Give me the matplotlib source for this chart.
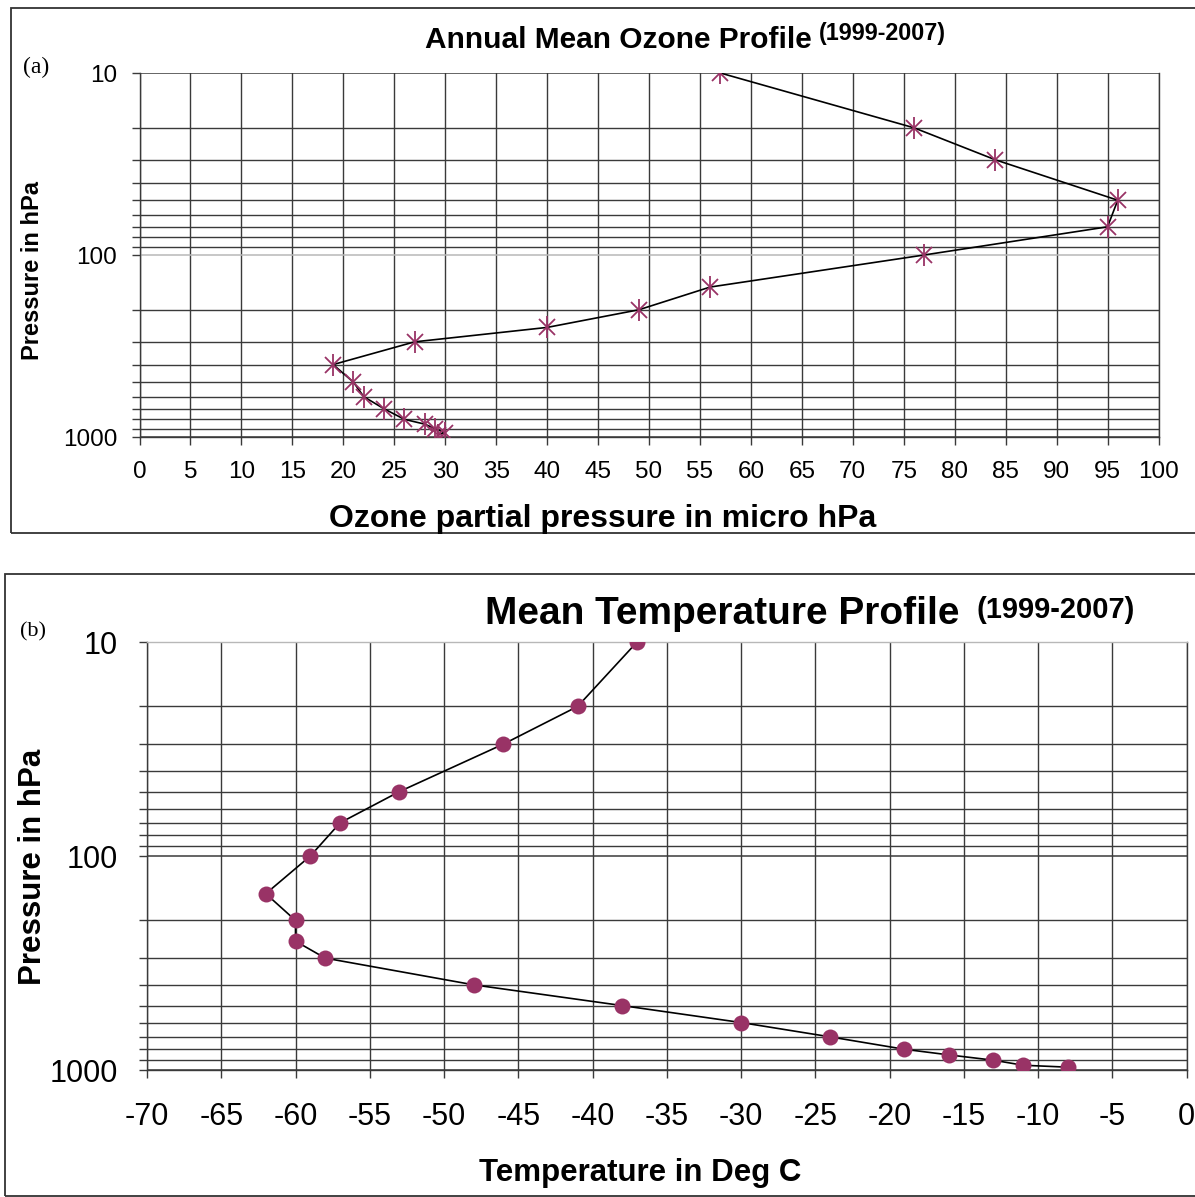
import matplotlib
matplotlib.use("Agg")
import matplotlib.pyplot as plt
from matplotlib.patches import Rectangle
from matplotlib.ticker import FixedLocator, NullFormatter

plt.rcParams['font.family'] = ['Liberation Sans', 'DejaVu Sans']
plt.rcParams['axes.unicode_minus'] = False

# pressure levels (hPa)
ozone_p = [10, 20, 30, 50, 70, 100, 150, 200, 250, 300, 400, 500, 600, 700, 800, 850, 900, 950, 970]
# ozone partial pressure (micro hPa)
ozone = [57, 76, 84, 96, 95, 77, 56, 49, 40, 27, 19, 21, 22, 24, 26, 28, 29, 30, 29.3]

temp_p = [10, 20, 30, 50, 70, 100, 150, 200, 250, 300, 400, 500, 600, 700, 800, 850, 900, 950, 970]
# temperature (deg C)
temp = [-37, -41, -46, -53, -57, -59, -62, -60, -60, -58, -48, -38, -30, -24, -19, -16, -13, -11, -8]

major_p = [10, 100, 1000]
minor_p = [20, 30, 40, 50, 60, 70, 80, 90, 200, 300, 400, 500, 600, 700, 800, 900]

PLUM = '#993366'
GRID = '#3a3a3a'

W, H = 1195, 1197
fig = plt.figure(figsize=(W / 100, H / 100), dpi=100)


def fx(px):
    return px / W


def fy(py):
    return 1 - py / H


def setup_pressure_axis(ax, xticks, fs, ypad, xpad, light_p):
    ax.set_yscale('log')
    ax.set_ylim(1000, 10)
    ax.yaxis.set_major_locator(FixedLocator(major_p))
    ax.yaxis.set_minor_locator(FixedLocator(minor_p))
    ax.yaxis.set_minor_formatter(NullFormatter())
    ax.set_yticklabels([str(p) for p in major_p])
    ax.set_xticks(xticks)
    ax.set_xticklabels([str(v) for v in xticks])
    ax.tick_params(axis='both', which='both', direction='out', length=6,
                   width=1, color=GRID, labelsize=fs)
    ax.tick_params(axis='y', pad=ypad)
    ax.tick_params(axis='x', pad=xpad)
    ax.grid(axis='x', which='major', color=GRID, lw=1)
    ax.grid(axis='y', which='minor', color=GRID, lw=1)
    for p in major_p:
        c = '#b8b8b8' if p == light_p else GRID
        ax.axhline(p, color=c, lw=1.1, zorder=1.5)
    for s in ax.spines.values():
        s.set_color(GRID)
        s.set_linewidth(1)
    ax.set_axisbelow(True)


# ---- (a) ozone ----
ax1 = fig.add_axes([fx(139.5), fy(437), fx(1158.5) - fx(139.5), fy(73) - fy(437)])
setup_pressure_axis(ax1, list(range(0, 101, 5)), 17.5, 10, 11, 100)
ax1.set_xlim(0, 100)
ax1.spines['top'].set_visible(False)
ax1.plot(ozone, ozone_p, color='black', lw=1.2, zorder=3)
ax1.plot(ozone, ozone_p, ls='none', marker='x', ms=12, mew=1.3, color=PLUM, zorder=4)
ax1.plot(ozone, ozone_p, ls='none', marker='|', ms=16, mew=1.3, color=PLUM, zorder=4)

fig.text(fx(425), fy(47.7), 'Annual Mean Ozone Profile', fontsize=21.5,
         fontweight='bold', ha='left', va='baseline')
fig.text(fx(819), fy(40.4), '(1999-2007)', fontsize=16.8,
         fontweight='bold', ha='left', va='baseline')
fig.text(fx(23), fy(67), '(a)', fontsize=17, ha='left', va='center',
         family=['Liberation Serif', 'DejaVu Serif'])
fig.text(fx(33), fy(270), 'Pressure in hPa', fontsize=17, fontweight='bold',
         rotation=90, ha='center', va='center')
fig.text(fx(603), fy(527), 'Ozone partial pressure in micro hPa', fontsize=23,
         fontweight='bold', ha='center', va='baseline')

# ---- (b) temperature ----
ax2 = fig.add_axes([fx(147), fy(1070), fx(1186.5) - fx(147), fy(642) - fy(1070)])
setup_pressure_axis(ax2, list(range(-70, 1, 5)), 22, 15, 17, 10)
ax2.set_xlim(-70, 0)
ax2.spines['top'].set_color('#b8b8b8')
ax2.plot(temp, temp_p, color='black', lw=1.2, zorder=3)
ax2.plot(temp, temp_p, ls='none', marker='o', ms=11.5, mew=0, color=PLUM, zorder=4)

fig.text(fx(485), fy(624), 'Mean Temperature Profile', fontsize=28,
         fontweight='bold', ha='left', va='baseline')
fig.text(fx(977), fy(618), '(1999-2007)', fontsize=21,
         fontweight='bold', ha='left', va='baseline')
fig.text(fx(20), fy(632), '(b)', fontsize=16, ha='left', va='center',
         family=['Liberation Serif', 'DejaVu Serif'])
fig.text(fx(33), fy(867), 'Pressure in hPa', fontsize=22.5, fontweight='bold',
         rotation=90, ha='center', va='center')
fig.text(fx(640), fy(1181), 'Temperature in Deg C', fontsize=22.5,
         fontweight='bold', ha='center', va='baseline')

# frames around the two panels
fig.patches.append(Rectangle((fx(10.5), fy(532.5)), 1.1, fy(8) - fy(532.5),
                             transform=fig.transFigure, fill=False,
                             ec='#333333', lw=1.3))
fig.patches.append(Rectangle((fx(4.5), fy(1196)), 1.1, fy(574) - fy(1196),
                             transform=fig.transFigure, fill=False,
                             ec='#333333', lw=1.3))

fig.savefig('out.png', dpi=100)
